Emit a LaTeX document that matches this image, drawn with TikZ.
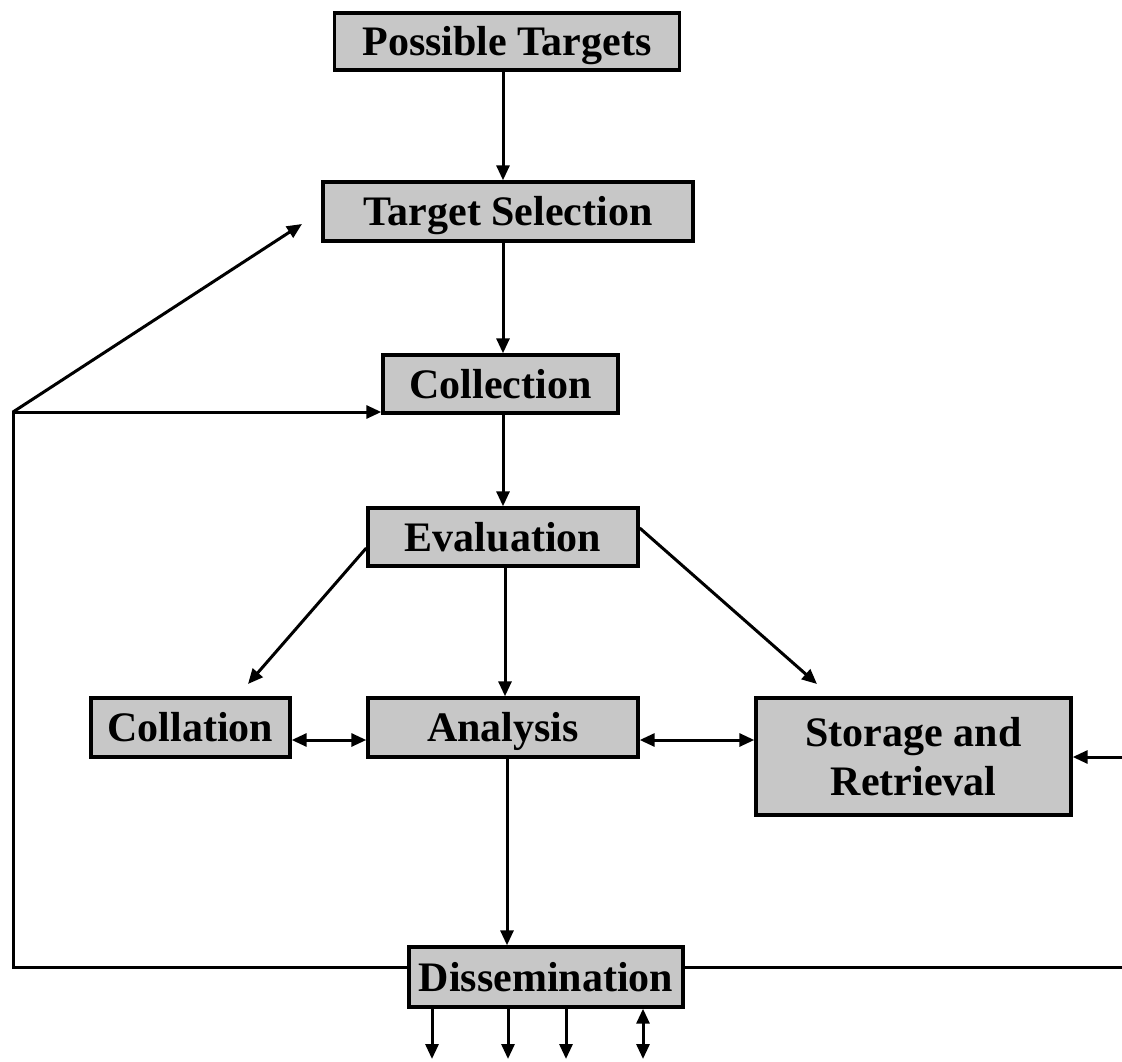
\documentclass[tikz,border=0pt]{standalone}
\usepackage{fontspec}
\setmainfont{Liberation Serif}
\usetikzlibrary{arrows.meta}
\begin{document}
\begin{tikzpicture}[x=1pt,y=-1pt,
  box/.style={draw=black, line width=3.4pt, fill=black!22, inner sep=0pt,
    font=\bfseries\fontsize{42}{49}\selectfont, align=center,
    text height=30pt, text depth=2pt},
  conn/.style={line width=3pt, draw=black},
  tip/.style={-{Triangle[length=15pt,width=13pt]}},
  both/.style={{Triangle[length=15pt,width=13pt]}-{Triangle[length=15pt,width=13pt]}}]
\useasboundingbox (0,0) rectangle (1122,1062);
\node[box, minimum width=345pt, minimum height=57pt] (pt) at (507,41.5) {Possible Targets};
\node[box, minimum width=370pt, minimum height=59pt] (ts) at (508,211.5) {Target Selection};
\node[box, minimum width=235pt, minimum height=58pt] (col) at (500.5,384) {Collection};
\node[box, minimum width=270pt, minimum height=58pt] (ev) at (503,537) {Evaluation};
\node[box, minimum width=199pt, minimum height=59pt] (cola) at (190.5,727.5) {Collation};
\node[box, minimum width=270pt, minimum height=59pt] (an) at (503,727.5) {Analysis};
\node[box, minimum width=315pt, minimum height=117pt, text height=, text depth=] (st) at (913.5,756.5) {Storage and\\Retrieval};
\node[box, minimum width=274pt, minimum height=60pt] (dis) at (546,977) {Dissemination};
% coordinates
\coordinate (corner) at (13,412);
\coordinate (tsin) at (302,224);
\coordinate (colain) at (248,684);
\coordinate (stin) at (817,684);
\coordinate (rin) at (1122,757);
\coordinate (rout) at (1122,967);
\coordinate (d1) at (432,1059);
\coordinate (d2) at (508,1059);
\coordinate (d3) at (566,1059);
\coordinate (d4) at (643,1059);
% main flow
\draw[conn,tip] (pt.south -| 503,0) -- (ts.north -| 503,0);
\draw[conn,tip] (ts.south -| 503,0) -- (col.north -| 503,0);
\draw[conn,tip] (col.south -| 503,0) -- (ev.north -| 503,0);
\draw[conn,tip] (ev.south -| 505,0) -- (an.north -| 505,0);
\draw[conn,tip] (ev.west |- 0,548) -- (colain);
\draw[conn,tip] (ev.east |- 0,528) -- (stin);
\draw[conn,both] (cola.east |- 0,740) -- (an.west |- 0,740);
\draw[conn,both] (an.east |- 0,740) -- (st.west |- 0,740);
\draw[conn,tip] (rin) -- (st.east |- rin);
\draw[conn,tip] (an.south -| 507,0) -- (dis.north -| 507,0);
% feedback loop
\draw[conn,tip] (dis.west |- 0,967) -- (corner |- 0,967) -- (corner) -- (col.west |- corner);
\draw[conn,tip] (corner) -- (tsin);
\draw[conn] (dis.east |- rout) -- (rout);
% outputs
\draw[conn,tip] (dis.south -| d1) -- (d1);
\draw[conn,tip] (dis.south -| d2) -- (d2);
\draw[conn,tip] (dis.south -| d3) -- (d3);
\draw[conn,both] (dis.south -| d4) -- (d4);
\end{tikzpicture}
\end{document}
